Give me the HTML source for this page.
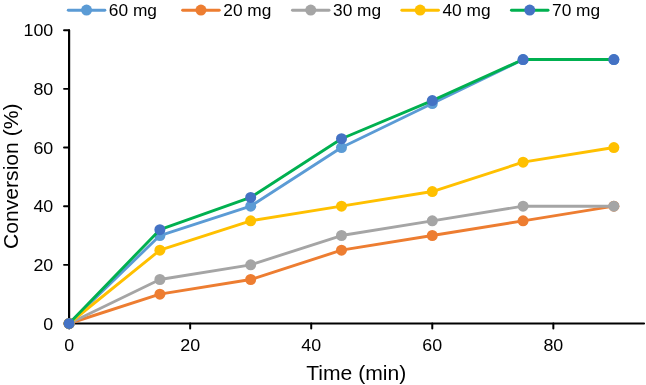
<!DOCTYPE html><html><head><meta charset="utf-8"><style>html,body{margin:0;padding:0;background:#fff;}svg{display:block;will-change:transform;}text{font-family:"Liberation Sans", sans-serif;fill:#000;}</style></head><body>
<svg width="646" height="385" viewBox="0 0 646 385">
<path d="M69.10 30.40 V323.50" fill="none" stroke="#000" stroke-width="2.2" stroke-linecap="round"/>
<path d="M68.00 323.50 H644" fill="none" stroke="#000" stroke-width="2.2" stroke-linecap="round"/>
<path d="M64 323.50 H69.10" stroke="#000" stroke-width="1.9" stroke-linecap="round"/>
<path d="M64 264.84 H69.10" stroke="#000" stroke-width="1.9" stroke-linecap="round"/>
<path d="M64 206.18 H69.10" stroke="#000" stroke-width="1.9" stroke-linecap="round"/>
<path d="M64 147.52 H69.10" stroke="#000" stroke-width="1.9" stroke-linecap="round"/>
<path d="M64 88.86 H69.10" stroke="#000" stroke-width="1.9" stroke-linecap="round"/>
<path d="M64 30.20 H69.10" stroke="#000" stroke-width="1.9" stroke-linecap="round"/>
<path d="M69.10 323.50 V328.50" stroke="#000" stroke-width="2" stroke-linecap="round"/>
<path d="M190.16 323.50 V328.50" stroke="#000" stroke-width="2" stroke-linecap="round"/>
<path d="M311.22 323.50 V328.50" stroke="#000" stroke-width="2" stroke-linecap="round"/>
<path d="M432.28 323.50 V328.50" stroke="#000" stroke-width="2" stroke-linecap="round"/>
<path d="M553.34 323.50 V328.50" stroke="#000" stroke-width="2" stroke-linecap="round"/>
<text x="0" y="0" font-size="16.70" text-anchor="end" transform="translate(53.3 329.50) scale(1.070 1)">0</text>
<text x="0" y="0" font-size="16.70" text-anchor="end" transform="translate(53.3 270.84) scale(1.070 1)">20</text>
<text x="0" y="0" font-size="16.70" text-anchor="end" transform="translate(53.3 212.18) scale(1.070 1)">40</text>
<text x="0" y="0" font-size="16.70" text-anchor="end" transform="translate(53.3 153.52) scale(1.070 1)">60</text>
<text x="0" y="0" font-size="16.70" text-anchor="end" transform="translate(53.3 94.86) scale(1.070 1)">80</text>
<text x="0" y="0" font-size="16.70" text-anchor="end" transform="translate(53.3 36.20) scale(1.070 1)">100</text>
<text x="0" y="0" font-size="16.70" text-anchor="middle" transform="translate(69.10 350.9) scale(1.070 1)">0</text>
<text x="0" y="0" font-size="16.70" text-anchor="middle" transform="translate(190.16 350.9) scale(1.070 1)">20</text>
<text x="0" y="0" font-size="16.70" text-anchor="middle" transform="translate(311.22 350.9) scale(1.070 1)">40</text>
<text x="0" y="0" font-size="16.70" text-anchor="middle" transform="translate(432.28 350.9) scale(1.070 1)">60</text>
<text x="0" y="0" font-size="16.70" text-anchor="middle" transform="translate(553.34 350.9) scale(1.070 1)">80</text>
<text x="0" y="0" font-size="20.70" text-anchor="middle" transform="translate(356.2 379.7) scale(1.020 1)">Time (min)</text>
<text x="0" y="0" font-size="20.70" text-anchor="middle" transform="translate(17.6 176.2) rotate(-90) scale(1.020 1)">Conversion (%)</text>
<polyline points="69.10,323.50 159.89,235.51 250.69,206.18 341.49,147.52 432.28,103.53 523.08,59.53 613.87,59.53" fill="none" stroke="#5B9BD5" stroke-width="2.90" stroke-linejoin="round" stroke-linecap="round"/>
<circle cx="69.10" cy="323.50" r="5.50" fill="#5B9BD5"/>
<circle cx="159.89" cy="235.51" r="5.50" fill="#5B9BD5"/>
<circle cx="250.69" cy="206.18" r="5.50" fill="#5B9BD5"/>
<circle cx="341.49" cy="147.52" r="5.50" fill="#5B9BD5"/>
<circle cx="432.28" cy="103.53" r="5.50" fill="#5B9BD5"/>
<circle cx="523.08" cy="59.53" r="5.50" fill="#5B9BD5"/>
<circle cx="613.87" cy="59.53" r="5.50" fill="#5B9BD5"/>
<polyline points="69.10,323.50 159.89,294.17 250.69,279.50 341.49,250.18 432.28,235.51 523.08,220.84 613.87,206.18" fill="none" stroke="#ED7D31" stroke-width="2.90" stroke-linejoin="round" stroke-linecap="round"/>
<circle cx="69.10" cy="323.50" r="5.50" fill="#ED7D31"/>
<circle cx="159.89" cy="294.17" r="5.50" fill="#ED7D31"/>
<circle cx="250.69" cy="279.50" r="5.50" fill="#ED7D31"/>
<circle cx="341.49" cy="250.18" r="5.50" fill="#ED7D31"/>
<circle cx="432.28" cy="235.51" r="5.50" fill="#ED7D31"/>
<circle cx="523.08" cy="220.84" r="5.50" fill="#ED7D31"/>
<circle cx="613.87" cy="206.18" r="5.50" fill="#ED7D31"/>
<polyline points="69.10,323.50 159.89,279.50 250.69,264.84 341.49,235.51 432.28,220.84 523.08,206.18 613.87,206.18" fill="none" stroke="#A5A5A5" stroke-width="2.90" stroke-linejoin="round" stroke-linecap="round"/>
<circle cx="69.10" cy="323.50" r="5.50" fill="#A5A5A5"/>
<circle cx="159.89" cy="279.50" r="5.50" fill="#A5A5A5"/>
<circle cx="250.69" cy="264.84" r="5.50" fill="#A5A5A5"/>
<circle cx="341.49" cy="235.51" r="5.50" fill="#A5A5A5"/>
<circle cx="432.28" cy="220.84" r="5.50" fill="#A5A5A5"/>
<circle cx="523.08" cy="206.18" r="5.50" fill="#A5A5A5"/>
<circle cx="613.87" cy="206.18" r="5.50" fill="#A5A5A5"/>
<polyline points="69.10,323.50 159.89,250.18 250.69,220.84 341.49,206.18 432.28,191.52 523.08,162.19 613.87,147.52" fill="none" stroke="#FFC000" stroke-width="2.90" stroke-linejoin="round" stroke-linecap="round"/>
<circle cx="69.10" cy="323.50" r="5.50" fill="#FFC000"/>
<circle cx="159.89" cy="250.18" r="5.50" fill="#FFC000"/>
<circle cx="250.69" cy="220.84" r="5.50" fill="#FFC000"/>
<circle cx="341.49" cy="206.18" r="5.50" fill="#FFC000"/>
<circle cx="432.28" cy="191.52" r="5.50" fill="#FFC000"/>
<circle cx="523.08" cy="162.19" r="5.50" fill="#FFC000"/>
<circle cx="613.87" cy="147.52" r="5.50" fill="#FFC000"/>
<polyline points="69.10,323.50 159.89,229.64 250.69,197.38 341.49,138.72 432.28,100.59 523.08,59.53 613.87,59.53" fill="none" stroke="#00B050" stroke-width="2.90" stroke-linejoin="round" stroke-linecap="round"/>
<circle cx="69.10" cy="323.50" r="5.50" fill="#4472C4"/>
<circle cx="159.89" cy="229.64" r="5.50" fill="#4472C4"/>
<circle cx="250.69" cy="197.38" r="5.50" fill="#4472C4"/>
<circle cx="341.49" cy="138.72" r="5.50" fill="#4472C4"/>
<circle cx="432.28" cy="100.59" r="5.50" fill="#4472C4"/>
<circle cx="523.08" cy="59.53" r="5.50" fill="#4472C4"/>
<circle cx="613.87" cy="59.53" r="5.50" fill="#4472C4"/>
<path d="M68.25 10.2 H104.85" stroke="#5B9BD5" stroke-width="2.90" stroke-linecap="round"/>
<circle cx="86.55" cy="10.1" r="5.50" fill="#5B9BD5"/>
<text x="0" y="0" font-size="16.50" transform="translate(108.85 16) scale(1.050 1)">60 mg</text>
<path d="M182.65 10.2 H219.25" stroke="#ED7D31" stroke-width="2.90" stroke-linecap="round"/>
<circle cx="200.95" cy="10.1" r="5.50" fill="#ED7D31"/>
<text x="0" y="0" font-size="16.50" transform="translate(223.25 16) scale(1.050 1)">20 mg</text>
<path d="M292.45 10.2 H329.05" stroke="#A5A5A5" stroke-width="2.90" stroke-linecap="round"/>
<circle cx="310.75" cy="10.1" r="5.50" fill="#A5A5A5"/>
<text x="0" y="0" font-size="16.50" transform="translate(333.05 16) scale(1.050 1)">30 mg</text>
<path d="M401.85 10.2 H438.45" stroke="#FFC000" stroke-width="2.90" stroke-linecap="round"/>
<circle cx="420.15" cy="10.1" r="5.50" fill="#FFC000"/>
<text x="0" y="0" font-size="16.50" transform="translate(442.45 16) scale(1.050 1)">40 mg</text>
<path d="M511.45 10.2 H548.05" stroke="#00B050" stroke-width="2.90" stroke-linecap="round"/>
<circle cx="529.75" cy="10.1" r="5.50" fill="#4472C4"/>
<text x="0" y="0" font-size="16.50" transform="translate(552.05 16) scale(1.050 1)">70 mg</text>
</svg></body></html>
